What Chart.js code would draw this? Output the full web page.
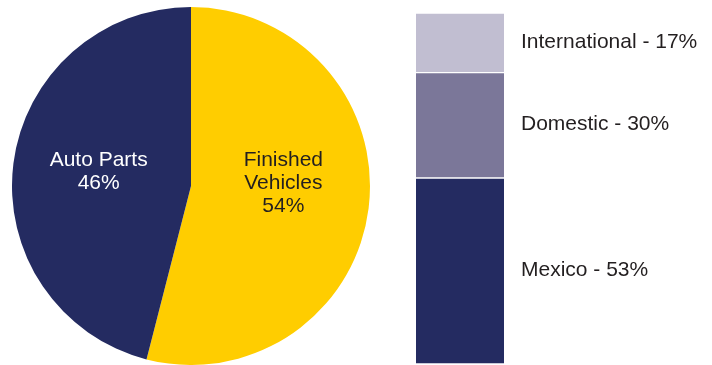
<!DOCTYPE html>
<html>
<head>
<meta charset="utf-8">
<script src="https://cdn.jsdelivr.net/npm/chart.js"></script>
<style>
  html, body { margin: 0; padding: 0; background: #fff; }
  body { width: 712px; height: 365px; position: relative; overflow: hidden; }
  #pie { position: absolute; left: 12px; top: 7px; }
  #stack { position: absolute; left: 416px; top: 13px; }
</style>
</head>
<body>
<canvas id="pie" width="358" height="358"></canvas>
<canvas id="stack" width="296" height="351"></canvas>
<script>
// Shipment mix
const pieLabels = [['Finished', 'Vehicles'], ['Auto Parts']];
const pieValues = [54, 46];

// Origin of auto parts, stacked bottom to top
const stackLabels = ['Mexico', 'Domestic', 'International'];
const stackValues = [53, 30, 17];

const FONT = '"Liberation Sans", Arial, Helvetica, sans-serif';
const NAVY = '#242b61';
const YELLOW = '#ffcd00';
const INK = '#231f20';

// text inside each slice: x follows the slice's middle angle,
// all blocks share the same first baseline just above the centre
const sliceText = {
  id: 'sliceText',
  afterDatasetsDraw(chart) {
    const ctx = chart.ctx;
    const colors = [INK, '#ffffff'];
    chart.getDatasetMeta(0).data.forEach((arc, i) => {
      const mid = (arc.startAngle + arc.endAngle) / 2;
      const x = arc.x + Math.cos(mid) * arc.outerRadius * 0.52;
      const top = arc.y - 20;
      const lines = [...pieLabels[i], pieValues[i] + '%'];
      ctx.save();
      ctx.font = '21px ' + FONT;
      ctx.fillStyle = colors[i];
      ctx.textAlign = 'center';
      ctx.textBaseline = 'alphabetic';
      lines.forEach((t, k) => ctx.fillText(t, x, top + k * 23));
      ctx.restore();
    });
  }
};

new Chart(document.getElementById('pie'), {
  type: 'pie',
  data: {
    labels: pieLabels.map(l => l.join(' ')),
    datasets: [{
      data: pieValues,
      backgroundColor: [YELLOW, NAVY],
      borderWidth: 0
    }]
  },
  options: {
    responsive: false,
    animation: false,
    devicePixelRatio: 1,
    plugins: { legend: { display: false }, tooltip: { enabled: false } }
  },
  plugins: [sliceText]
});

// label to the right of each stacked segment
const segmentText = {
  id: 'segmentText',
  afterDatasetsDraw(chart) {
    const ctx = chart.ctx;
    chart.data.datasets.forEach((ds, i) => {
      const bar = chart.getDatasetMeta(i).data[0];
      const mid = (bar.y + bar.base) / 2;
      ctx.save();
      ctx.font = '21px ' + FONT;
      ctx.fillStyle = INK;
      ctx.textAlign = 'left';
      ctx.textBaseline = 'alphabetic';
      ctx.fillText(ds.label + ' - ' + ds.data[0] + '%', chart.chartArea.right + 17, mid + 5);
      ctx.restore();
    });
  }
};

const stackColors = [NAVY, '#7b7799', '#c1bed1'];

new Chart(document.getElementById('stack'), {
  type: 'bar',
  data: {
    labels: [''],
    datasets: stackLabels.map((label, i) => ({
      label,
      data: [stackValues[i]],
      backgroundColor: stackColors[i],
      borderColor: '#ffffff',
      borderWidth: { top: 1, bottom: 1, left: 0, right: 0 },
      borderSkipped: false,
      barPercentage: 1,
      categoryPercentage: 1
    }))
  },
  options: {
    responsive: false,
    animation: false,
    devicePixelRatio: 1,
    layout: { padding: { left: 0, right: 208, top: 0, bottom: 0 } },
    scales: {
      x: { display: false, stacked: true },
      y: { display: false, stacked: true, min: 0, max: 100 }
    },
    plugins: { legend: { display: false }, tooltip: { enabled: false } }
  },
  plugins: [segmentText]
});
</script>
</body>
</html>
